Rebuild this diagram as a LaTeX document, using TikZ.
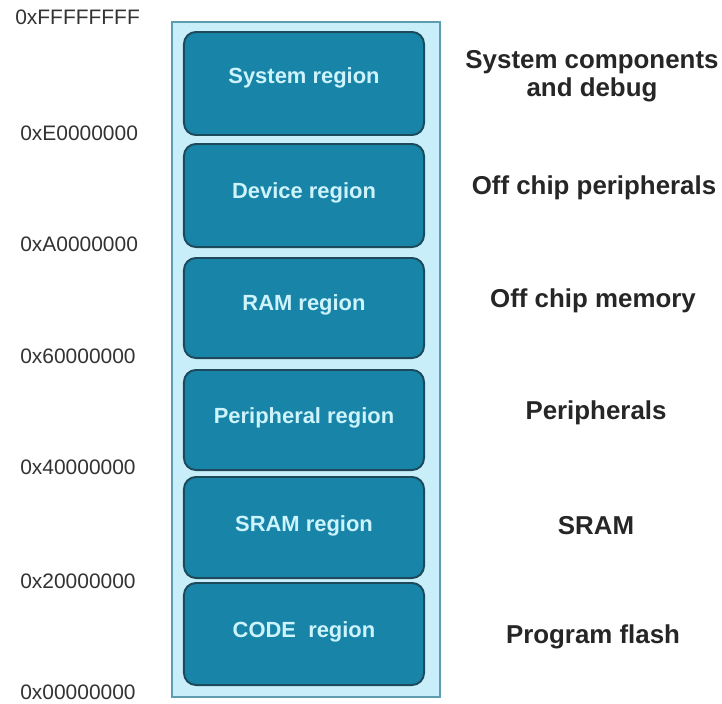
\documentclass[tikz,border=0pt]{standalone}
\usepackage{fontspec}
\setmainfont{Liberation Sans}
\usepackage{tikz}
\usetikzlibrary{positioning}

\definecolor{mapback}{HTML}{C8EEFA}
\definecolor{mapedge}{HTML}{5E9DB0}
\definecolor{regfill}{HTML}{1884A8}
\definecolor{regedge}{HTML}{1C4A5A}
\definecolor{regtext}{HTML}{CDF3FC}
\definecolor{addrtext}{HTML}{333333}

\tikzset{
  region/.style={draw=regedge, fill=regfill, line width=1.4pt, rounded corners=0.3cm,
    minimum width=6cm, text=regtext, font=\fontsize{15.6}{18}\selectfont\bfseries},
  addr/.style={anchor=west, text=addrtext, inner sep=0pt, font=\fontsize{14.9}{17}\selectfont},
  usage/.style={align=center, text=black!85, inner sep=0pt,
    font=\fontsize{18.4}{20}\selectfont\bfseries}
}

\begin{document}
\begin{tikzpicture}[x=0.025cm,y=-0.025cm]
\useasboundingbox (0,0) rectangle (722,703);
\fill[white] (0,0) rectangle (722,703);

% memory block
\draw[fill=mapback, draw=mapedge, line width=0.9pt] (172,22) rectangle (440,697);

\node[region, minimum height=2.575cm] (sys)  at (304,83.5) {};
\node[region, minimum height=2.575cm] (dev)  at (304,195.5) {};
\node[region, minimum height=2.5cm]   (ram)  at (304,308) {};
\node[region, minimum height=2.5cm]   (peri) at (304,420) {};
\node[region, minimum height=2.525cm] (sram) at (304,527.5) {};
\node[region, minimum height=2.55cm]  (code) at (304,634) {};

% region names, a little above the middle
\node[region, draw=none, fill=none] (tsys)  at (304,78)  {System region};
\node[region, draw=none, fill=none] (tdev)  at (304,193) {Device region};
\node[region, draw=none, fill=none] (tram)  at (304,305) {RAM region};
\node[region, draw=none, fill=none] (tperi) at (304,418) {Peripheral region};
\node[region, draw=none, fill=none] (tsram) at (304,526) {SRAM region};
\node[region, draw=none, fill=none] (tcode) at (304,632) {CODE\ \ region};

% addresses
\node[addr] (aF) at (15,17)  {0xFFFFFFFF};
\node[addr] (aE) at (20,133) {0xE0000000};
\node[addr] (aA) at (20,244) {0xA0000000};
\node[addr] (a6) at (20,356) {0x60000000};
\node[addr] (a4) at (20,467) {0x40000000};
\node[addr] (a2) at (20,581) {0x20000000};
\node[addr] (a0) at (20,692) {0x00000000};

% what lives there
\node[usage] (usys)  at (592,76)  {System components\\and debug};
\node[usage] (udev)  at (594,188) {Off chip peripherals};
\node[usage] (uram)  at (593,301) {Off chip memory};
\node[usage] (uperi) at (596,413) {Peripherals};
\node[usage] (usram) at (596,526) {SRAM};
\node[usage] (ucode) at (593,637) {Program flash};

\end{tikzpicture}
\end{document}
